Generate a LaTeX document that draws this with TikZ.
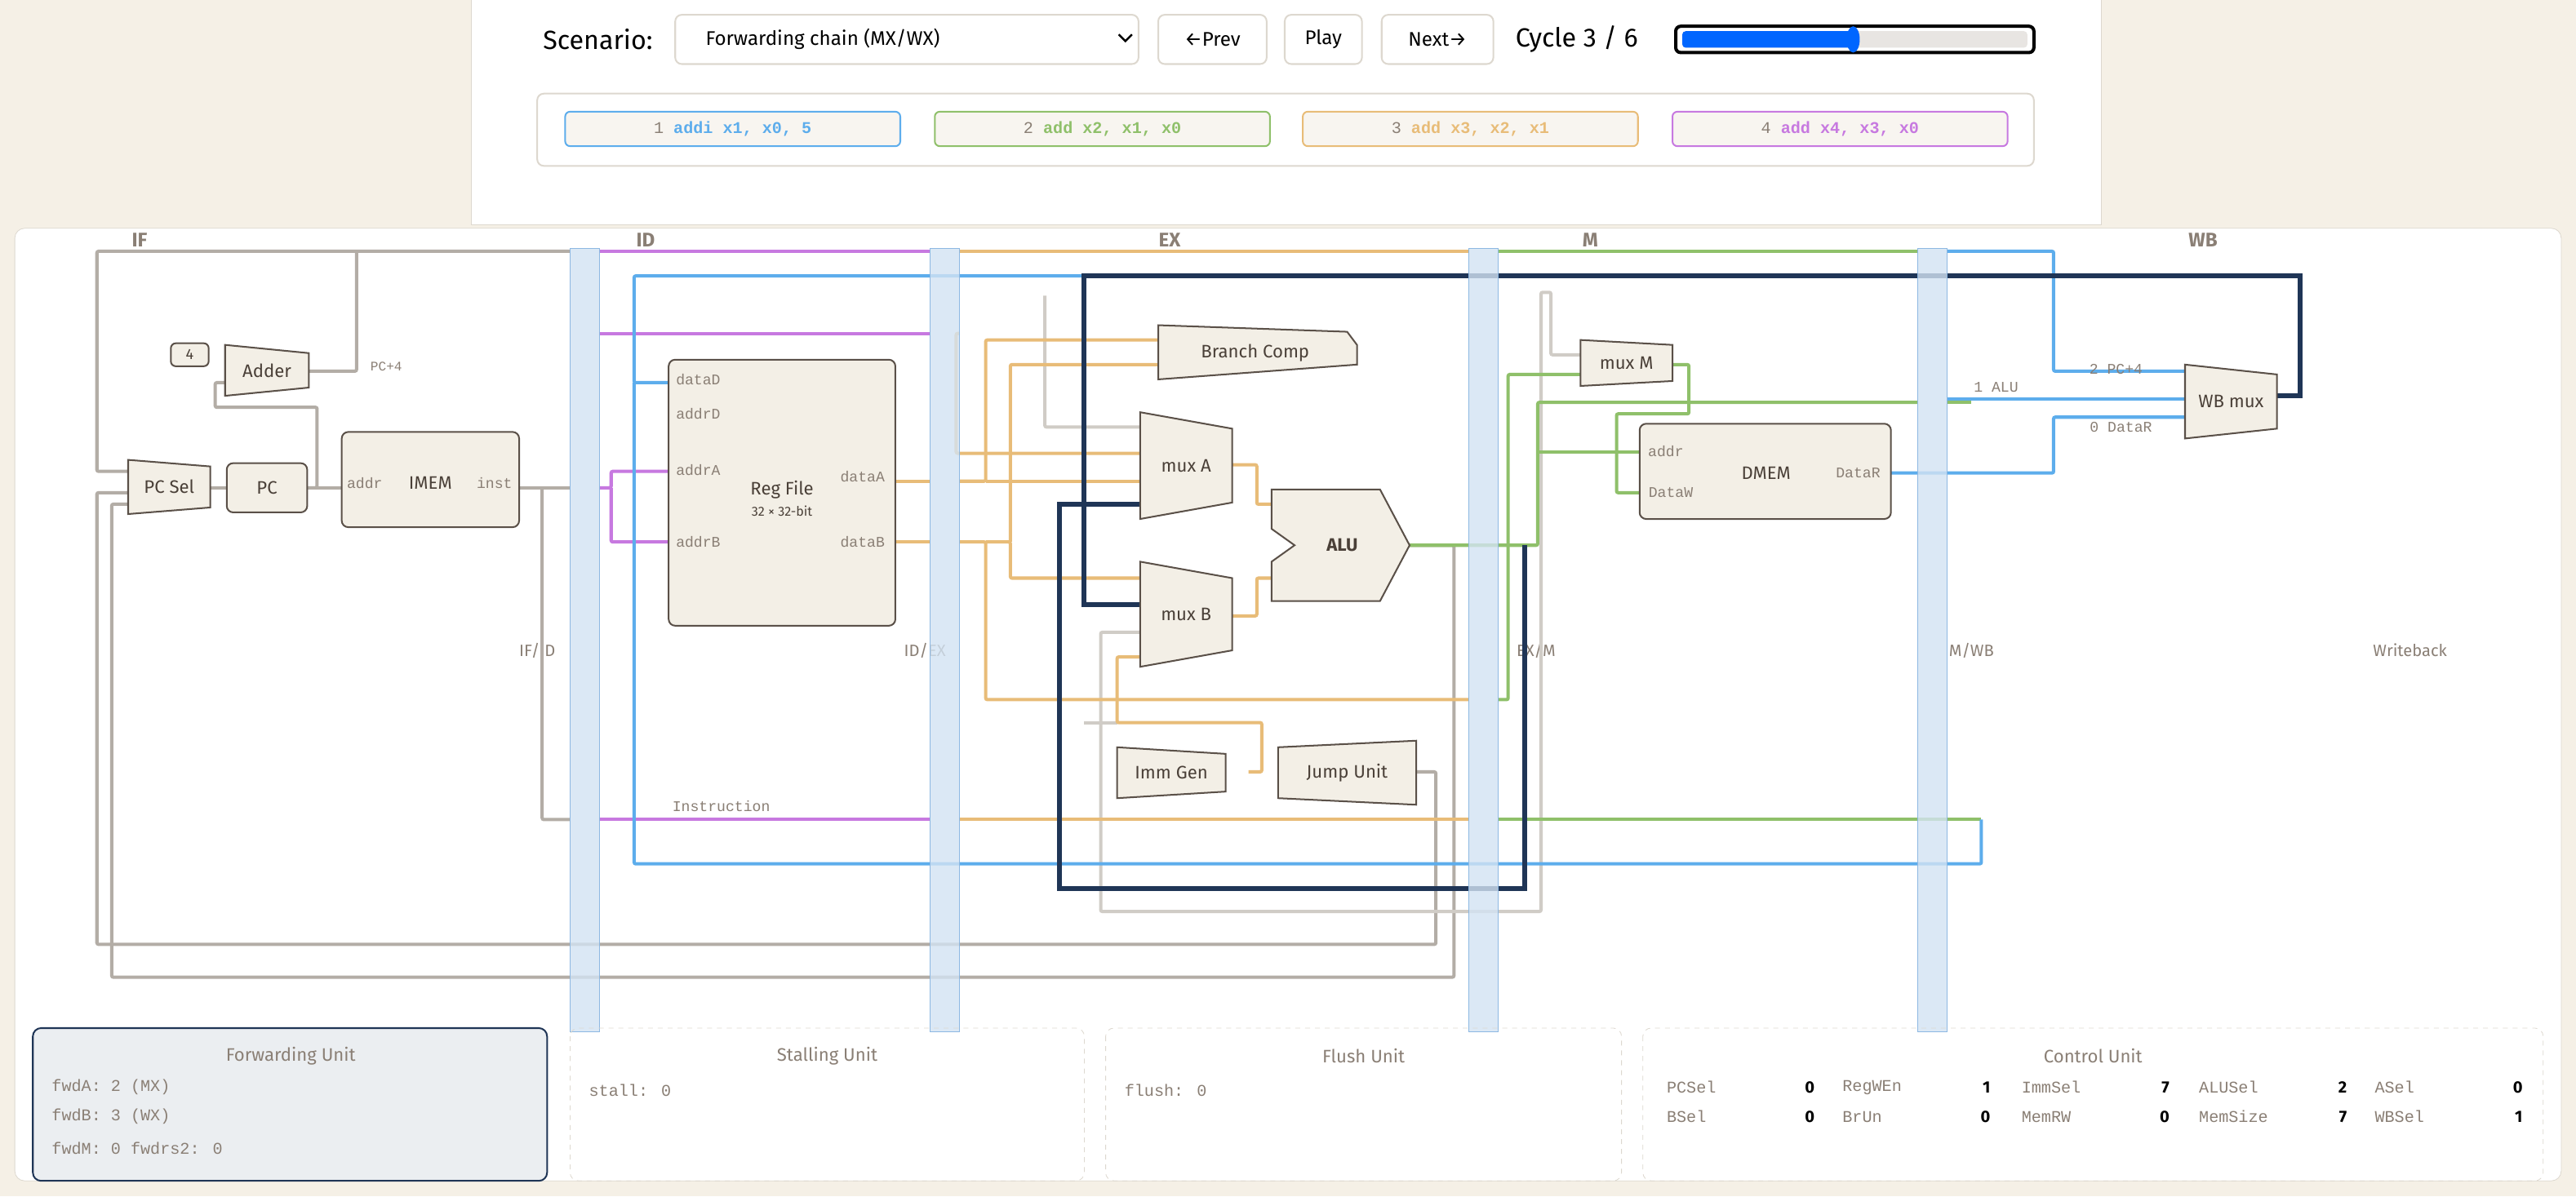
\documentclass[tikz,border=0pt]{standalone}
\usepackage{fontspec}
\setmainfont{Fira Sans}
\newfontfamily\mono{Liberation Mono}
\definecolor{bgc}{HTML}{F5F0E6}
\definecolor{boxf}{HTML}{F3EFE6}
\definecolor{boxd}{HTML}{5A5048}
\definecolor{wb}{HTML}{5DADEC}
\definecolor{wg}{HTML}{8FC06A}
\definecolor{wo}{HTML}{E8BC78}
\definecolor{wp}{HTML}{C779E0}
\definecolor{wn}{HTML}{1F3556}
\definecolor{wgr}{HTML}{B3ADA6}
\definecolor{lgr}{HTML}{D0CCC6}
\definecolor{regf}{HTML}{D3E3F3}
\definecolor{regd}{HTML}{8DB8E2}
\definecolor{txt}{HTML}{4A4038}
\definecolor{ml}{HTML}{8A7F75}
\definecolor{panel}{HTML}{DDD8CF}
\definecolor{fwf}{HTML}{EBEEF1}
\tikzset{
 box/.style={draw=boxd,fill=boxf,line width=1pt},
 lbl/.style={font=\fontsize{11}{12}\selectfont,text=txt},
 sm/.style={font=\mono\fontsize{9}{10}\selectfont,text=ml},
 wire/.style={line width=2pt,rounded corners=1pt},
 stg/.style={font=\bfseries\fontsize{12}{13}\selectfont,text=ml},
 pl/.style={font=\fontsize{10}{11}\selectfont,text=ml},
 btn/.style={draw=panel,fill=white,line width=1pt,rounded corners=4pt},
}
\newcommand\mytrap[7]{%
 \draw[box] (#2,#3) -- (#4,{#3+#6}) -- (#4,{#5-#6}) -- (#2,#5) -- cycle;
 \node[lbl] (#1) at ({(#2+#4)/2},{(#3+#5)/2}) {#7};}
\begin{document}
\begin{tikzpicture}[x=1pt,y=-1pt]
\useasboundingbox (0,0) rectangle (1568,728.4);
\fill[bgc] (0,0) rectangle (1568,728.4);
% top panel
\fill[white] (287,-5) rectangle (1279,137);
\draw[panel] (287,-5) -- (287,137) -- (1279,137) -- (1279,-5);
\node[anchor=west,font=\fontsize{16}{18}\selectfont,text=black] (scen) at (327,24) {Scenario:};
\draw[btn] (411,9) rectangle (693,39);
\node[anchor=west,font=\fontsize{12}{14}\selectfont] (fwc) at (426,24) {Forwarding chain (MX/WX)};
\draw[line width=1.2pt] (681,21) -- (685,25) -- (689,21);
\draw[btn] (705,9) rectangle (771,39); \node[font=\fontsize{12}{14}\selectfont] (prev) at (738,24) {←Prev};
\draw[btn] (782,9) rectangle (829,39); \node[font=\fontsize{12}{14}\selectfont] (play) at (805.5,24) {Play};
\draw[btn] (841,9) rectangle (909,39); \node[font=\fontsize{12}{14}\selectfont] (next) at (875,24) {Next→};
\node[anchor=west,font=\fontsize{16}{18}\selectfont] (cyc) at (919,24) {Cycle 3 / 6};
\draw[line width=2pt,rounded corners=3pt] (1020,16) rectangle (1238,32);
\fill[lgr!50,rounded corners=2pt] (1024,19) rectangle (1234,29);
\fill[blue!60!cyan,rounded corners=2pt] (1024,19) rectangle (1128,29);
\fill[blue!60!cyan] (1128,24) ellipse (4pt and 8pt);
\draw[btn] (327,57) rectangle (1238,101);
\foreach \x/\c/\n/\t in {344/wb/1/addi x1{,} x0{,} 5,569/wg/2/add x2{,} x1{,} x0,793/wo/3/add x3{,} x2{,} x1,1018/wp/4/add x4{,} x3{,} x0}{
 \draw[draw=\c,fill=boxf!60,line width=1pt,rounded corners=3pt] (\x,68) rectangle (\x+204,89);
 \node[font=\mono\fontsize{10}{12}\selectfont] at (\x+102,78.5) {\textcolor{ml}{\n} \textcolor{\c}{\bfseries\t}};}
% main panel
\draw[panel,fill=white,rounded corners=6pt] (9,139) rectangle (1559,719);
% stage labels
\foreach \x/\t in {85/IF,393/ID,712/EX,968/M,1341/WB}{\node[stg] at (\x,146) {\t};}
\foreach \x/\t in {327/IF\slash ID,563/ID\slash EX,935/EX\slash M,1200/M\slash WB,1467/Writeback}{\node[pl] at (\x,396) {\t};}
% gray wires
\draw[wire,wgr] (78,287) -- (59,287) -- (59,153) -- (347,153);
\draw[wire,wgr] (188,226) -- (217,226) -- (217,153);
\draw[wire,wgr] (187,297) -- (193,297) -- (193,248) -- (131,248) -- (131,233) -- (137,233);
\draw[wire,wgr] (128,297) -- (138,297);
\draw[wire,wgr] (187,297) -- (208,297);
\draw[wire,wgr] (316,297) -- (347,297);
\draw[wire,wgr] (330,297) -- (330,499) -- (347,499);
\draw[wire,wgr] (862,470) -- (874,470) -- (874,575) -- (59,575) -- (59,300) -- (78,300);
\draw[wire,wgr] (858,332) -- (885,332) -- (885,595) -- (68,595) -- (68,307) -- (78,307);
\draw[wire,lgr] (694,385) -- (670,385) -- (670,555) -- (938,555) -- (938,178) -- (944,178) -- (944,216) -- (962,216);
\draw[wire,lgr] (636,180) -- (636,260) -- (694,260);
\draw[wire,lgr] (660,440) -- (680,440);
% purple
\draw[wire,wp] (365,153) -- (566,153);
\draw[wire,wp] (365,297) -- (372,297) -- (372,287) -- (407,287);
\draw[wire,wp] (372,297) -- (372,330) -- (407,330);
\draw[wire,wp] (365,203) -- (566,203);
\draw[wire,wp] (365,499) -- (566,499);
% orange
\draw[wire,wo] (584,153) -- (894,153);
\draw[wire,wo] (584,203) -- (582,203) -- (582,276) -- (694,276);
\draw[wire,wo] (545,293) -- (566,293);
\draw[wire,wo] (545,330) -- (566,330);
\draw[wire,wo] (584,293) -- (600,293) -- (600,207) -- (705,207);
\draw[wire,wo] (600,293) -- (694,293);
\draw[wire,wo] (584,330) -- (600,330) -- (600,426) -- (894,426);
\draw[wire,wo] (600,330) -- (615,330) -- (615,352) -- (694,352);
\draw[wire,wo] (615,330) -- (615,222) -- (705,222);
\draw[wire,wo] (750,283) -- (765,283) -- (765,307) -- (774,307);
\draw[wire,wo] (750,375) -- (765,375) -- (765,352) -- (774,352);
\draw[wire,wo] (694,400) -- (680,400) -- (680,440) -- (768,440) -- (768,470) -- (760,470);
\draw[wire,wo] (584,499) -- (894,499);
% green
\draw[wire,wg] (912,153) -- (1167,153);
\draw[wire,wg] (858,332) -- (936,332) -- (936,245) -- (1167,245);
\draw[wire,wg] (912,426) -- (918,426) -- (918,228) -- (962,228);
\draw[wire,wg] (936,275) -- (998,275);
\draw[wire,wg] (1018,222) -- (1028,222) -- (1028,252) -- (984,252) -- (984,300) -- (998,300);
\draw[wire,wg] (912,499) -- (1206,499);
\draw[wire,wg] (1185,245) -- (1200,245);
% blue
\draw[wire,wb] (1185,153) -- (1250,153) -- (1250,226) -- (1330,226);
\draw[wire,wb] (407,233) -- (386,233) -- (386,168) -- (1248,168);
\draw[wire,wb] (386,233) -- (386,526) -- (1206,526) -- (1206,499);
\draw[wire,wb] (1185,243) -- (1330,243);
\draw[wire,wb] (1151,288) -- (1250,288) -- (1250,254) -- (1330,254);
% navy forwarding
\draw[wn,line width=3pt] (1386,241) -- (1400,241) -- (1400,168) -- (660,168) -- (660,368) -- (694,368);
\draw[wn,line width=3pt] (928,332) -- (928,541) -- (645,541) -- (645,307) -- (694,307);
% pipeline registers
\foreach \x in {347,566,894,1167}{\draw[regd,fill=regf,fill opacity=0.8] (\x,151) rectangle (\x+18,628);}
% components
\draw[box,rounded corners=3pt] (104,209) rectangle (127,223); \node[lbl,font=\fontsize{9}{10}\selectfont] (four) at (115.5,216) {4};
\mytrap{adder}{137}{210}{188}{241}{5}{Adder}
\node[sm,font=\mono\fontsize{8}{9}\selectfont,anchor=west] at (222,223) {PC+4};
\mytrap{pcsel}{78}{280}{128}{313}{4}{PC Sel}
\draw[box,rounded corners=4pt] (138,282) rectangle (187,312); \node[lbl] (pc) at (162.5,297) {PC};
\draw[box,rounded corners=4pt] (208,263) rectangle (316,321); \node[lbl] (imem) at (262,294) {IMEM};
\node[sm] at (222,294) {addr}; \node[sm] at (301,294) {inst};
\draw[box,rounded corners=4pt] (407,219) rectangle (545,381);
\node[lbl] (rf) at (476,298) {Reg File};
\node[lbl,font=\fontsize{8}{9}\selectfont] at (476,311) {32 × 32-bit};
\node[sm] at (425,231) {dataD}; \node[sm] at (425,252) {addrD};
\node[sm] at (425,286) {addrA}; \node[sm] at (425,330) {addrB};
\node[sm] at (525,290) {dataA}; \node[sm] at (525,330) {dataB};
\draw[box] (705,198) -- (820,202) -- (826,210) -- (826,222) -- (705,231) -- cycle;
\node[lbl] (bc) at (764,215) {Branch Comp};
\mytrap{muxa}{694}{251}{750}{316}{10}{mux A}
\mytrap{muxb}{694}{342}{750}{406}{10}{mux B}
\draw[box] (774,298) -- (840,298) -- (858,332) -- (840,366) -- (774,366) -- (774,342) -- (788,332) -- (774,322) -- cycle;
\node[lbl,font=\bfseries\fontsize{11}{12}\selectfont] (alu) at (817,332) {ALU};
\mytrap{imm}{680}{455}{746}{486}{4}{Imm Gen}
\mytrap{jmp}{778}{455}{862}{486}{-4}{Jump Unit}
\mytrap{muxm}{962}{207}{1018}{235}{3}{mux M}
\draw[box,rounded corners=4pt] (998,258) rectangle (1151,316); \node[lbl] (dmem) at (1075,288) {DMEM};
\node[sm] at (1014,275) {addr}; \node[sm] at (1017,300) {DataW}; \node[sm] at (1131,288) {DataR};
\mytrap{wbm}{1330}{222}{1386}{267}{6}{WB mux}
\node[sm] at (1215,236) {1 ALU}; \node[sm] at (1288,225) {2 PC+4}; \node[sm] at (1291,260) {0 DataR};
\node[sm] at (439,491) {Instruction};
% bottom panels
\draw[wn,fill=fwf,line width=1pt,rounded corners=5pt] (20,626) rectangle (333,719);
\node[pl,font=\fontsize{11}{12}\selectfont] at (177,643) {Forwarding Unit};
\node[sm,anchor=west,font=\mono\fontsize{10}{11}\selectfont] at (28,662) {fwdA: 2 (MX)};
\node[sm,anchor=west,font=\mono\fontsize{10}{11}\selectfont] at (28,680) {fwdB: 3 (WX)};
\node[sm,anchor=west,font=\mono\fontsize{10}{11}\selectfont] at (28,699) {fwdM: 0  fwdrs2: 0};
\foreach \a/\b/\t/\c in {347/660/Stalling Unit/stall: 0,673/987/Flush Unit/flush: 0}{
 \draw[panel,dashed,rounded corners=5pt] (\a,626) rectangle (\b,719);
 \node[pl,font=\fontsize{11}{12}\selectfont] at ({(\a+\b)/2},643) {\t};
 \node[sm,anchor=west,font=\mono\fontsize{10}{11}\selectfont] at (\a+8,664) {\c};}
\draw[panel,dashed,rounded corners=5pt] (1000,626) rectangle (1548,719);
\node[pl,font=\fontsize{11}{12}\selectfont] at (1274,643) {Control Unit};
\foreach \x/\l/\v/\y in {1011/PCSel/0/662,1118/RegWEn/1/662,1227/ImmSel/7/662,1335/ALUSel/2/662,1442/ASel/0/662,
 1011/BSel/0/680,1118/BrUn/0/680,1227/MemRW/0/680,1335/MemSize/7/680,1442/WBSel/1/680}{
 \node[sm,anchor=west,font=\mono\fontsize{10}{11}\selectfont] at (\x,\y) {\l};
 \node[anchor=east,font=\bfseries\fontsize{10}{11}\selectfont,text=black] at (\x+97,\y) {\v};}
\end{tikzpicture}
\end{document}
